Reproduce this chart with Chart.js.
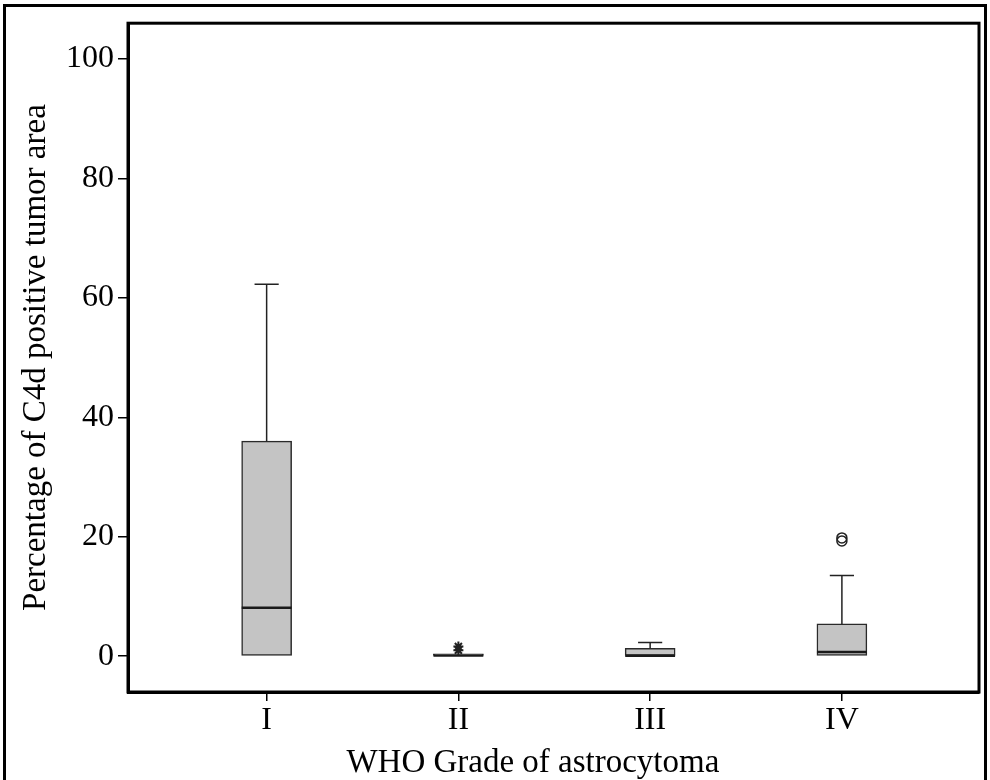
<!DOCTYPE html>
<html><head><meta charset="utf-8">
<script src="https://cdn.jsdelivr.net/npm/chart.js@4"></script>
<style>
html,body{margin:0;padding:0;background:#fff;}
#wrap{position:relative;width:990px;height:780px;overflow:hidden;background:#fff;}
#frame{position:absolute;left:3px;top:4px;width:978px;height:820px;border:3px solid #000;pointer-events:none;}
canvas{position:absolute;left:0;top:0;}
</style></head><body>
<div id="wrap"><canvas id="c" width="990" height="780"></canvas><div id="frame"></div></div>
<script>
// ---- data ----
const grades = ['I', 'II', 'III', 'IV'];
const q1 = [0, 0, 0, 0];
const q3 = [36, 0.4, 1.3, 5.4];
const medians = [8.1, 0.1, 0.05, 0.7];
const whiskerMax = [62.3, 0.4, 2.3, 13.5];
const outliersII = [1.0, 1.6];
const outliersIV = [19.3, 19.8];
const yTicks = [0, 20, 40, 60, 80, 100];
const yTitle = 'Percentage of C4d positive tumor area';
const xTitle = 'WHO Grade of astrocytoma';

const FONT = "'Liberation Serif', 'Times New Roman', serif";
const boxHalf = 0.13, capHalf = 0.063;

function segs(fn) {
  const out = [];
  grades.forEach((g, i) => { const s = fn(i); if (s) { out.push(...s); out.push({x: i + 0.5, y: null}); } });
  return out;
}

const frame = {
  id: 'frame',
  afterDraw(chart) {
    const {ctx, chartArea: a} = chart;
    ctx.save();
    ctx.strokeStyle = '#000';
    ctx.lineWidth = 3;
    ctx.strokeRect(a.left, a.top, a.right - a.left, a.bottom - a.top);
    ctx.restore();
  }
};

new Chart(document.getElementById('c'), {
  type: 'bar',
  data: {
    datasets: [
      {
        type: 'bar', order: 5,
        data: grades.map((g, i) => ({x: i, y: [q1[i], q3[i]]})),
        backgroundColor: '#c4c4c4', borderColor: '#2a2a2a', borderWidth: 1.5,
        borderSkipped: false, barThickness: 50
      },
      {
        type: 'line', order: 1,
        data: segs(i => [{x: i - boxHalf, y: medians[i]}, {x: i + boxHalf, y: medians[i]}]),
        borderColor: '#1a1a1a', borderWidth: 2.5, pointRadius: 0, spanGaps: false
      },
      {
        type: 'line', order: 2,
        data: segs(i => whiskerMax[i] > q3[i] ? [{x: i, y: q3[i]}, {x: i, y: whiskerMax[i]}] : null),
        borderColor: '#222', borderWidth: 1.5, pointRadius: 0, spanGaps: false
      },
      {
        type: 'line', order: 2,
        data: segs(i => whiskerMax[i] > q3[i] ? [{x: i - capHalf, y: whiskerMax[i]}, {x: i + capHalf, y: whiskerMax[i]}] : null),
        borderColor: '#222', borderWidth: 1.5, pointRadius: 0, spanGaps: false
      },
      {
        type: 'scatter', order: 0,
        data: outliersII.map(v => ({x: 1, y: v})),
        pointStyle: 'star', pointRadius: 5, borderColor: '#222', borderWidth: 2, backgroundColor: '#222'
      },
      {
        type: 'scatter', order: 0,
        data: outliersIV.map(v => ({x: 3, y: v})),
        pointStyle: 'circle', pointRadius: 5, borderColor: '#222', borderWidth: 1.5, backgroundColor: 'rgba(0,0,0,0)'
      }
    ]
  },
  options: {
    responsive: false,
    devicePixelRatio: 1,
    animation: false,
    layout: {padding: {top: 21, right: 11, left: 0, bottom: 0}},
    plugins: {legend: {display: false}, tooltip: {enabled: false}},
    scales: {
      x: {
        type: 'linear', offset: false, min: -0.723, max: 3.715,
        afterBuildTicks: s => { s.ticks = grades.map((g, i) => ({value: i})); },
        afterFit: s => { s.height = 88; },
        ticks: {
          callback: v => grades[v] ?? '',
          font: {family: FONT, size: 32}, color: '#000', padding: 0, maxRotation: 0, autoSkip: false
        },
        grid: {offset: false, drawOnChartArea: false, drawTicks: true, tickLength: 9, color: '#000', lineWidth: 1.5},
        border: {display: true, color: '#000', width: 3},
        title: {display: true, text: xTitle + '\u00A0\u00A0\u00A0\u00A0\u00A0', font: {family: FONT, size: 33, lineHeight: 1}, color: '#000', padding: {top: 0, bottom: 0}}
      },
      y: {
        min: -6, max: 106,
        afterBuildTicks: s => { s.ticks = yTicks.map(v => ({value: v})); },
        afterFit: s => { s.width = 128; },
        ticks: {font: {family: FONT, size: 32}, color: '#000', padding: 4},
        grid: {drawOnChartArea: false, drawTicks: true, tickLength: 10, color: '#000', lineWidth: 1.5},
        border: {display: true, color: '#000', width: 3},
        title: {display: true, text: yTitle, font: {family: FONT, size: 33, lineHeight: 1.2}, color: '#000', padding: {top: 17, bottom: 0}}
      }
    }
  },
  plugins: [frame]
});
</script>
</body></html>
